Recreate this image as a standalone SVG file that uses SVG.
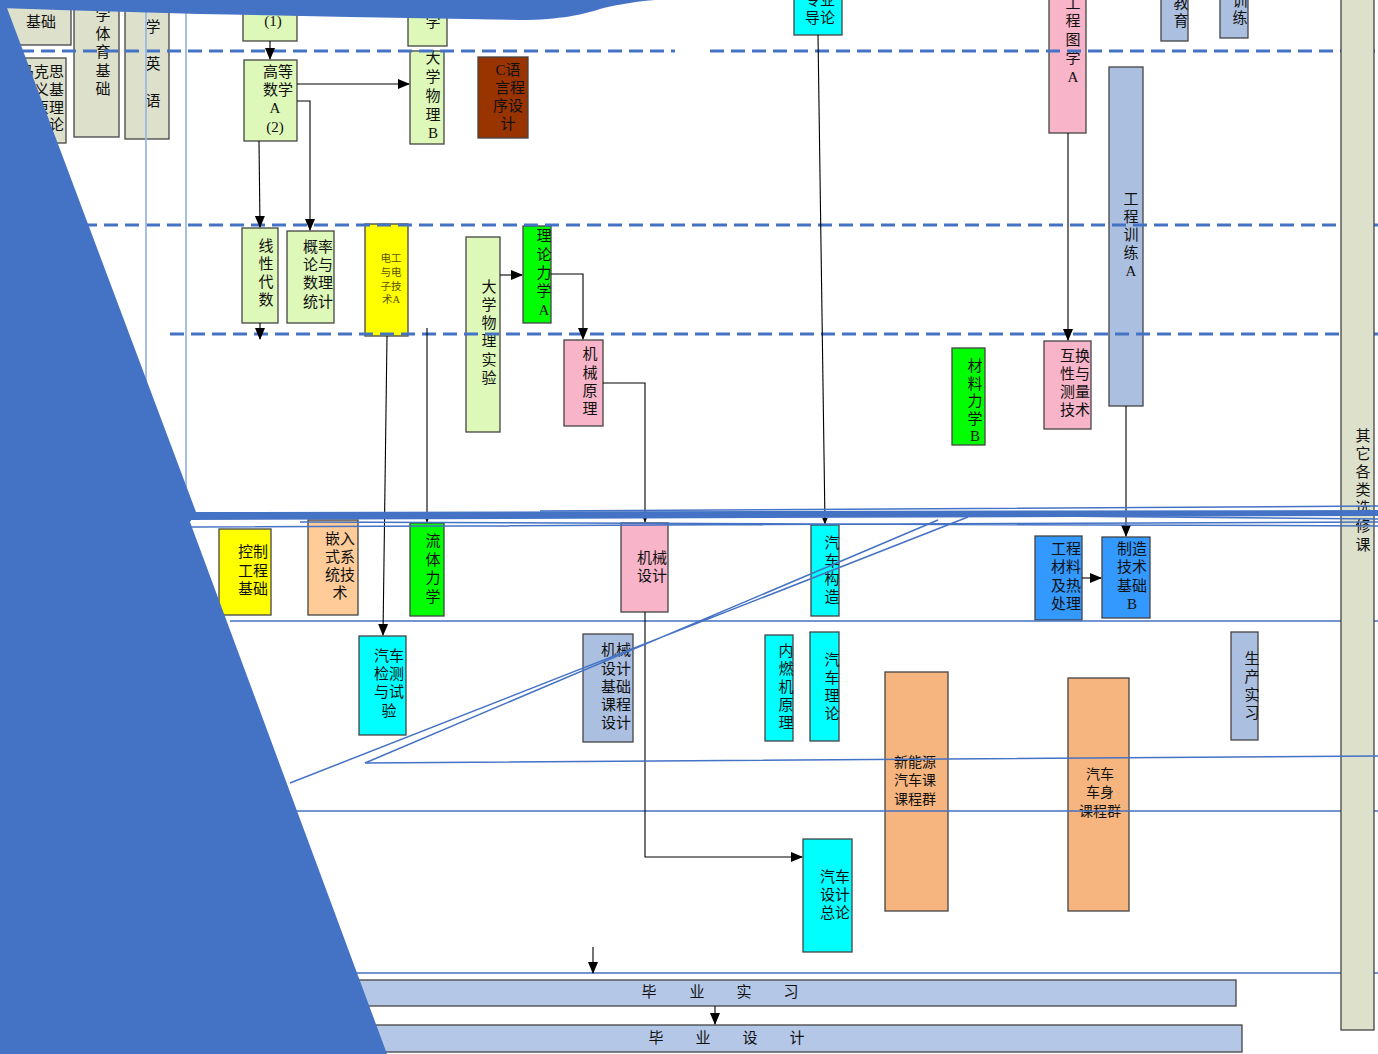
<svg xmlns="http://www.w3.org/2000/svg" width="1378" height="1054" viewBox="0 0 1378 1054">
<defs>
<marker id="arr" markerUnits="userSpaceOnUse" markerWidth="12" markerHeight="12" viewBox="0 0 12 12" refX="11" refY="6" orient="auto">
<path d="M0,1 L12,6 L0,11 Z" fill="#000"/>
</marker>
<marker id="arrs" markerUnits="userSpaceOnUse" markerWidth="7" markerHeight="7" viewBox="0 0 12 12" refX="11" refY="6" orient="auto">
<path d="M0,1 L12,6 L0,11 Z" fill="#000"/>
</marker>
</defs>
<style>
.t{font-family:"Liberation Serif","Noto Sans CJK SC",serif;font-size:15px;fill:#111;text-anchor:middle}
.ts{font-size:10.5px;fill:#5a5200}
.b{stroke:#444;stroke-width:1.3}
.g{fill:#DDE0CB}.lg{fill:#DDF8B8}.cy{fill:#00FFFF}.pk{fill:#F8B4C8}.gr{fill:#00FF00}.ye{fill:#FFFF00}.bl{fill:#ABC0E0}.db{fill:#3399FF}.or{fill:#F6B47E}.pe{fill:#FFCC99}.br{fill:#993300}
.dash{stroke:#4472C4;stroke-width:3;stroke-dasharray:14 7;fill:none}
.hl{stroke:#4472C4;stroke-width:1.5;fill:none}
.vl{stroke:#9DB8E3;stroke-width:1.8;fill:none}
.c{stroke:#000;stroke-width:1.1;fill:none}
</style>
<rect width="1378" height="1054" fill="#fff"/>

<!-- nodes -->
<g id="n-jichu"><rect class="b g" x="5" y="-5" width="66" height="50"/><text class="t" x="41" y="27">基础</text></g>
<g id="n-makesi"><rect class="b g" x="22" y="58" width="44" height="85"/><text class="t" style="text-anchor:end"><tspan x="64" y="77">马克思</tspan><tspan x="64" y="95">主义基</tspan><tspan x="64" y="113">本原理</tspan><tspan x="64" y="130">概论</tspan></text></g>
<g id="n-tiyu"><rect class="b g" x="74" y="-5" width="45" height="142"/><text class="t"><tspan x="103" y="1">大</tspan><tspan x="103" y="20">学</tspan><tspan x="103" y="39">体</tspan><tspan x="103" y="57">育</tspan><tspan x="103" y="76">基</tspan><tspan x="103" y="94">础</tspan></text></g>
<g id="n-yingyu"><rect class="b g" x="125" y="-5" width="44" height="144"/><text class="t"><tspan x="153" y="-5">大</tspan><tspan x="153" y="32">学</tspan><tspan x="153" y="69">英</tspan><tspan x="153" y="106">语</tspan></text></g>
<g id="n-gaoshu1"><rect class="b lg" x="243" y="-5" width="54" height="46"/><text class="t" x="273" y="26">(1)</text></g>
<g id="n-gaoshu2"><rect class="b lg" x="244" y="60" width="53" height="81"/><text class="t"><tspan x="278" y="77">高等</tspan><tspan x="278" y="95">数学</tspan><tspan x="275" y="113">A</tspan><tspan x="275" y="132">(2)</tspan></text></g>
<g id="n-wuli0"><rect class="b lg" x="408" y="-5" width="39" height="51"/><text class="t" x="433" y="27">学</text></g>
<g id="n-wulib"><rect class="b lg" x="410" y="51" width="34" height="93"/><text class="t"><tspan x="433" y="63">大</tspan><tspan x="433" y="82">学</tspan><tspan x="433" y="101">物</tspan><tspan x="433" y="120">理</tspan><tspan x="433" y="138">B</tspan></text></g>
<g id="n-cyuyan"><rect class="b br" x="478" y="57" width="50" height="81"/><text class="t"><tspan x="508" y="75">C语</tspan><tspan x="510" y="93">言程</tspan><tspan x="508" y="111">序设</tspan><tspan x="508" y="129">计</tspan></text></g>
<g id="n-daolun"><rect class="b cy" x="794" y="-5" width="48" height="40"/><text class="t"><tspan x="820" y="5">专业</tspan><tspan x="820" y="23">导论</tspan></text></g>
<g id="n-tuxue"><rect class="b pk" x="1049" y="-5" width="37" height="138"/><text class="t"><tspan x="1073" y="8">工</tspan><tspan x="1073" y="26">程</tspan><tspan x="1073" y="45">图</tspan><tspan x="1073" y="63">学</tspan><tspan x="1073" y="82">A</tspan></text></g>
<g id="n-jiaoyu"><rect class="b bl" x="1161" y="-5" width="27" height="46"/><text class="t"><tspan x="1181" y="8">教</tspan><tspan x="1181" y="26">育</tspan></text></g>
<g id="n-xunlian"><rect class="b bl" x="1220" y="-5" width="28" height="43"/><text class="t"><tspan x="1240" y="6">训</tspan><tspan x="1240" y="23">练</tspan></text></g>
<g id="n-gcxl"><rect class="b bl" x="1109" y="67" width="34" height="339"/><text class="t"><tspan x="1131" y="204">工</tspan><tspan x="1131" y="222">程</tspan><tspan x="1131" y="240">训</tspan><tspan x="1131" y="258">练</tspan><tspan x="1131" y="276">A</tspan></text></g>
<g id="n-xiandai"><rect class="b lg" x="242" y="228" width="36" height="95"/><text class="t"><tspan x="266" y="251">线</tspan><tspan x="266" y="269">性</tspan><tspan x="266" y="287">代</tspan><tspan x="266" y="305">数</tspan></text></g>
<g id="n-gailv"><rect class="b lg" x="287" y="231" width="47" height="92"/><text class="t"><tspan x="318" y="252">概率</tspan><tspan x="318" y="270">论与</tspan><tspan x="318" y="288">数理</tspan><tspan x="318" y="307">统计</tspan></text></g>
<g id="n-diangong"><rect class="b ye" x="365" y="224" width="43" height="112"/><text class="t ts"><tspan x="391" y="262">电工</tspan><tspan x="391" y="276">与电</tspan><tspan x="391" y="290">子技</tspan><tspan x="391" y="303">术A</tspan></text></g>
<g id="n-wlsy"><rect class="b lg" x="466" y="237" width="34" height="195"/><text class="t"><tspan x="489" y="292">大</tspan><tspan x="489" y="310">学</tspan><tspan x="489" y="328">物</tspan><tspan x="489" y="346">理</tspan><tspan x="489" y="365">实</tspan><tspan x="489" y="383">验</tspan></text></g>
<g id="n-lilun"><rect class="b gr" x="523" y="226" width="28" height="97"/><text class="t"><tspan x="544" y="241">理</tspan><tspan x="544" y="260">论</tspan><tspan x="544" y="278">力</tspan><tspan x="544" y="296">学</tspan><tspan x="544" y="315">A</tspan></text></g>
<g id="n-jxyl"><rect class="b pk" x="564" y="340" width="39" height="86"/><text class="t"><tspan x="590" y="359">机</tspan><tspan x="590" y="378">械</tspan><tspan x="590" y="396">原</tspan><tspan x="590" y="414">理</tspan></text></g>
<g id="n-cailiao"><rect class="b gr" x="952" y="348" width="33" height="97"/><text class="t"><tspan x="975" y="371">材</tspan><tspan x="975" y="389">料</tspan><tspan x="975" y="406">力</tspan><tspan x="975" y="424">学</tspan><tspan x="975" y="441">B</tspan></text></g>
<g id="n-huhuan"><rect class="b pk" x="1044" y="341" width="47" height="88"/><text class="t"><tspan x="1075" y="361">互换</tspan><tspan x="1075" y="379">性与</tspan><tspan x="1075" y="397">测量</tspan><tspan x="1075" y="415">技术</tspan></text></g>
<g id="n-kongzhi"><rect class="b ye" x="219" y="529" width="52" height="86"/><text class="t"><tspan x="253" y="557">控制</tspan><tspan x="253" y="576">工程</tspan><tspan x="253" y="594">基础</tspan></text></g>
<g id="n-qianru"><rect class="b pe" x="308" y="520" width="50" height="95"/><text class="t"><tspan x="340" y="544">嵌入</tspan><tspan x="340" y="562">式系</tspan><tspan x="340" y="580">统技</tspan><tspan x="340" y="598">术</tspan></text></g>
<g id="n-liuti"><rect class="b gr" x="410" y="523" width="34" height="93"/><text class="t"><tspan x="433" y="546">流</tspan><tspan x="433" y="565">体</tspan><tspan x="433" y="583">力</tspan><tspan x="433" y="602">学</tspan></text></g>
<g id="n-jxsj"><rect class="b pk" x="621" y="523" width="47" height="89"/><text class="t"><tspan x="652" y="563">机械</tspan><tspan x="652" y="581">设计</tspan></text></g>
<g id="n-gouzao"><rect class="b cy" x="811" y="525" width="28" height="91"/><text class="t"><tspan x="832" y="548">汽</tspan><tspan x="832" y="566">车</tspan><tspan x="832" y="584">构</tspan><tspan x="832" y="602">造</tspan></text></g>
<g id="n-gccl"><rect class="b db" x="1035" y="536" width="47" height="84"/><text class="t"><tspan x="1066" y="554">工程</tspan><tspan x="1066" y="572">材料</tspan><tspan x="1066" y="591">及热</tspan><tspan x="1066" y="609">处理</tspan></text></g>
<g id="n-zhizao"><rect class="b db" x="1102" y="537" width="48" height="81"/><text class="t"><tspan x="1132" y="554">制造</tspan><tspan x="1132" y="572">技术</tspan><tspan x="1132" y="591">基础</tspan><tspan x="1132" y="609">B</tspan></text></g>
<g id="n-jiance"><rect class="b cy" x="359" y="636" width="47" height="99"/><text class="t"><tspan x="389" y="661">汽车</tspan><tspan x="389" y="679">检测</tspan><tspan x="389" y="697">与试</tspan><tspan x="389" y="716">验</tspan></text></g>
<g id="n-kcsj"><rect class="b bl" x="583" y="634" width="50" height="108"/><text class="t"><tspan x="616" y="655">机械</tspan><tspan x="616" y="674">设计</tspan><tspan x="616" y="692">基础</tspan><tspan x="616" y="710">课程</tspan><tspan x="616" y="728">设计</tspan></text></g>
<g id="n-neiran"><rect class="b cy" x="765" y="635" width="28" height="106"/><text class="t"><tspan x="786" y="656">内</tspan><tspan x="786" y="674">燃</tspan><tspan x="786" y="692">机</tspan><tspan x="786" y="710">原</tspan><tspan x="786" y="728">理</tspan></text></g>
<g id="n-qclilun"><rect class="b cy" x="810" y="632" width="29" height="109"/><text class="t"><tspan x="832" y="665">汽</tspan><tspan x="832" y="683">车</tspan><tspan x="832" y="701">理</tspan><tspan x="832" y="719">论</tspan></text></g>
<g id="n-xinneng"><rect class="b or" x="885" y="672" width="63" height="239"/><text class="t" style="font-size:14px"><tspan x="915" y="767">新能源</tspan><tspan x="915" y="785">汽车课</tspan><tspan x="915" y="804">课程群</tspan></text></g>
<g id="n-cheshen"><rect class="b or" x="1068" y="678" width="61" height="233"/><text class="t" style="font-size:14px"><tspan x="1100" y="779">汽车</tspan><tspan x="1100" y="797">车身</tspan><tspan x="1100" y="816">课程群</tspan></text></g>
<g id="n-shengchan"><rect class="b bl" x="1231" y="632" width="27" height="108"/><text class="t"><tspan x="1252" y="664">生</tspan><tspan x="1252" y="682">产</tspan><tspan x="1252" y="700">实</tspan><tspan x="1252" y="718">习</tspan></text></g>
<g id="n-zonglun"><rect class="b cy" x="803" y="839" width="49" height="113"/><text class="t"><tspan x="835" y="882">汽车</tspan><tspan x="835" y="900">设计</tspan><tspan x="835" y="918">总论</tspan></text></g>
<g id="n-bysx"><rect class="b" fill="#B4C7E7" x="290" y="980" width="946" height="26"/><text class="t"><tspan x="649" y="997">毕</tspan><tspan x="697" y="997">业</tspan><tspan x="744" y="997">实</tspan><tspan x="791" y="997">习</tspan></text></g>
<g id="n-bysj"><rect class="b" fill="#B4C7E7" x="290" y="1025" width="952" height="27"/><text class="t"><tspan x="656" y="1043">毕</tspan><tspan x="703" y="1043">业</tspan><tspan x="750" y="1043">设</tspan><tspan x="797" y="1043">计</tspan></text></g>

<!-- grid lines -->
<g id="grid">
<path class="dash" d="M20,51 H675 M710,51 H1378 M20,225 H1378 M170,334 H1378"/>
<path class="hl" d="M230,621 H1378 M260,811 H1378 M340,973 H1378"/>
<path class="vl" d="M146,0 V514 M186,0 V520"/>
</g>

<g id="n-xuanxiu"><rect class="b g" x="1341" y="-5" width="33" height="1035"/><text class="t"><tspan x="1363" y="441">其</tspan><tspan x="1363" y="459">它</tspan><tspan x="1363" y="477">各</tspan><tspan x="1363" y="495">类</tspan><tspan x="1363" y="513">选</tspan><tspan x="1363" y="531">修</tspan><tspan x="1363" y="550">课</tspan></text></g>

<!-- connectors -->
<g id="connectors">
<path class="c" marker-end="url(#arr)" d="M270,41 V59"/>
<path class="c" marker-end="url(#arr)" d="M297,84 H409"/>
<path class="c" marker-end="url(#arr)" d="M297,101 H310 V230"/>
<path class="c" marker-end="url(#arr)" d="M259,141 L260,227"/>
<path class="c" marker-end="url(#arr)" d="M260,323 V339"/>
<path class="c" marker-end="url(#arr)" d="M387,336 L383,635"/>
<path class="c" marker-end="url(#arrs)" d="M427,328 V522"/>
<path class="c" marker-end="url(#arr)" d="M500,275 H522"/>
<path class="c" marker-end="url(#arr)" d="M551,274 H583 V339"/>
<path class="c" marker-end="url(#arrs)" d="M603,383 H645 V522"/>
<path class="c" marker-end="url(#arr)" d="M645,612 V857 H802"/>
<path class="c" marker-end="url(#arrs)" d="M818,35 L825,524"/>
<path class="c" marker-end="url(#arr)" d="M1068,133 V340"/>
<path class="c" marker-end="url(#arr)" d="M1126,406 V536"/>
<path class="c" marker-end="url(#arr)" d="M1082,578 H1101"/>
<path class="c" marker-end="url(#arr)" d="M593,947 V973"/>
<path class="c" marker-end="url(#arr)" d="M715,1006 V1024"/>
</g>

<!-- overlay blue strokes -->
<g id="overlay" fill="#4472C4">
<path d="M190,512 L1378,510 L1378,516 L190,520 Z"/>
<path class="hl" d="M190,527 L1378,522 M540,511 L1378,506 M300,522 L1378,526 M700,513 L1378,519"/>
<path class="hl" d="M938,520 L365,763 L1378,756 M968,517 L290,783"/>
<path d="M0,0 L655,0 C630,2 612,6 600,9 C585,14 560,20 520,20 L350,17 L200,14 L60,10 L0,8 Z"/>
<path d="M0,0 L4,0 L196,512 L190,522 L387,1054 L0,1054 Z"/>
</g>
</svg>
